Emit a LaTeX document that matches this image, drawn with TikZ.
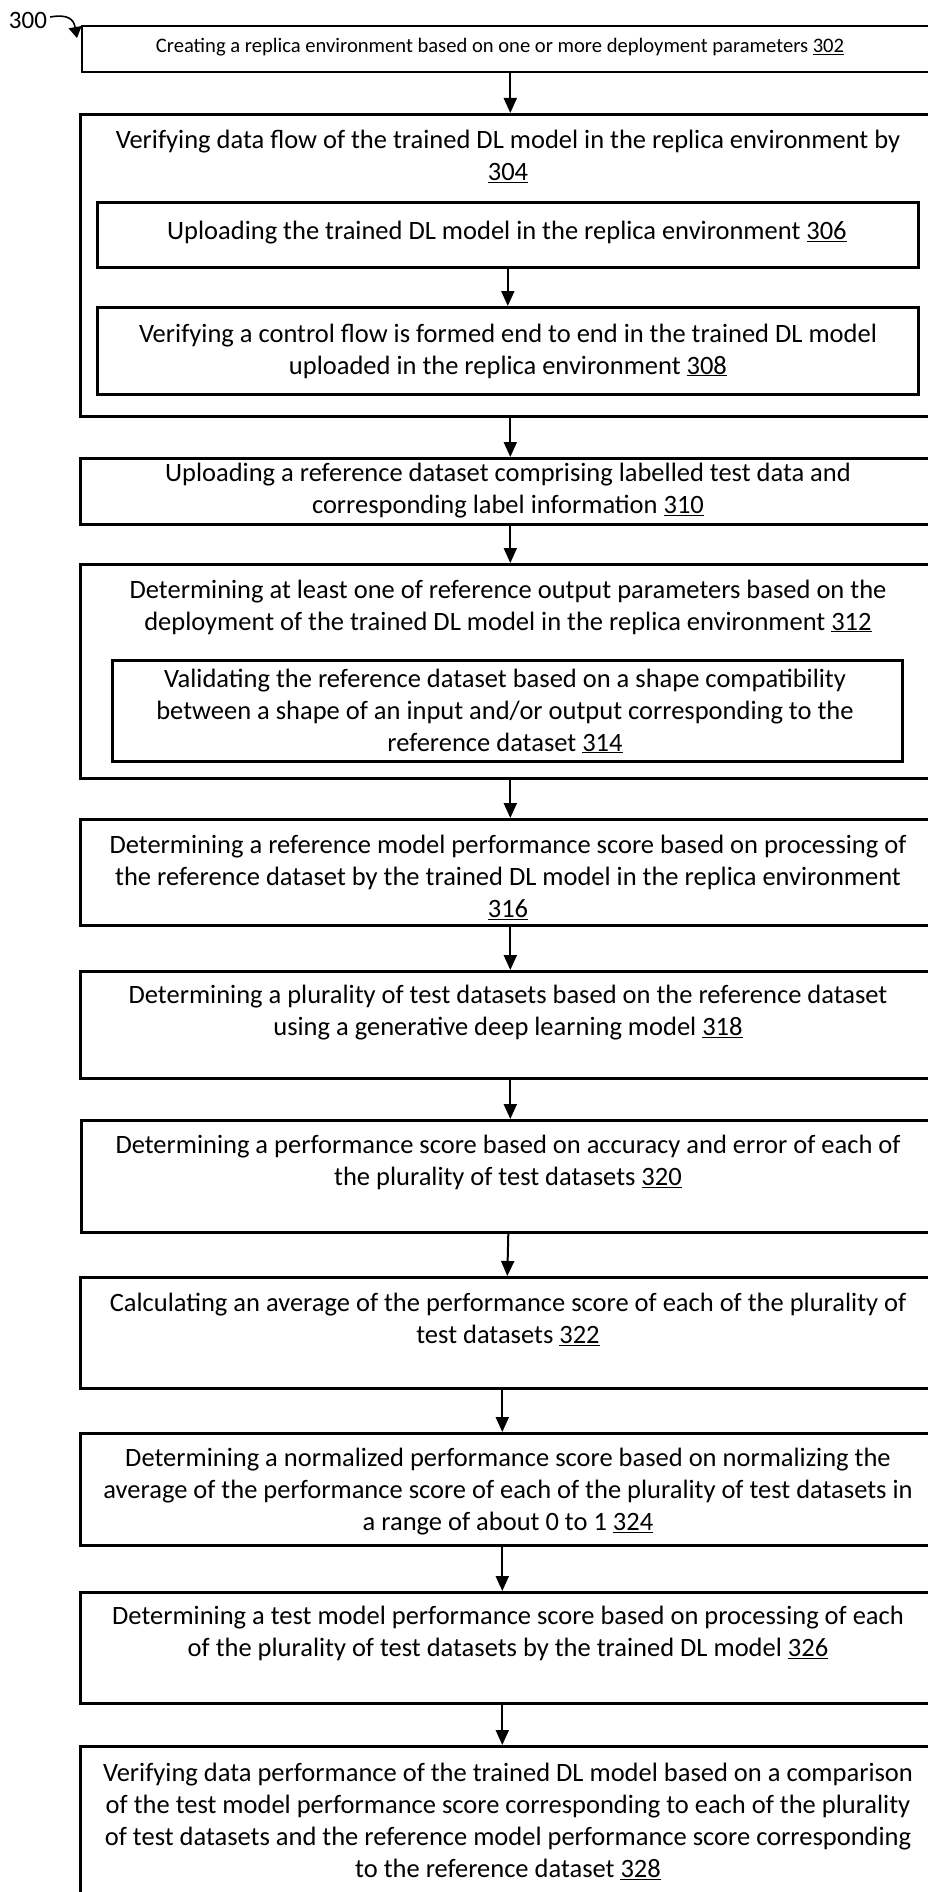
\documentclass[tikz,border=0pt]{standalone}
\usepackage{fontspec}
\setmainfont{Carlito}
\usetikzlibrary{arrows.meta}

\begin{document}
\begin{tikzpicture}[x=1pt,y=-1pt]
        \tikzstyle{box}=[draw,line width=2.6pt,anchor=north west,inner sep=0pt,minimum width=860pt]
        \tikzstyle{txt}=[align=center,inner sep=0pt,font=\fontsize{26.5}{32}\selectfont]
        \tikzstyle{arr}=[line width=2pt,-{Triangle[length=15pt,width=13pt]}]
        \useasboundingbox (0,0) rectangle (928,1892);
        \clip (0,0) rectangle (928,1892);
        % boxes
        \node[box,line width=1.8pt,minimum height=46pt] (b302) at (81,25) {};
        \node[box,minimum height=302pt] (b304) at (79,113) {};
        \node[box,minimum width=821pt,minimum height=65pt] (b306) at (96,201) {};
        \node[box,minimum width=821pt,minimum height=87pt] (b308) at (96,306) {};
        \node[box,minimum height=66pt] (b310) at (79,457) {};
        \node[box,minimum height=214pt] (b312) at (79,563) {};
        \node[box,minimum width=790pt,minimum height=101pt] (b314) at (111,659) {};
        \node[box,minimum height=106pt] (b316) at (79,818) {};
        \node[box,minimum height=107pt] (b318) at (79,970) {};
        \node[box,minimum height=112pt] (b320) at (80,1119) {};
        \node[box,minimum height=111pt] (b322) at (79,1276) {};
        \node[box,minimum height=112pt] (b324) at (79,1432) {};
        \node[box,minimum height=111pt] (b326) at (79,1591) {};
        \node[box,minimum height=200pt] (b328) at (79,1745) {};
        % texts
        \node[txt,font=\fontsize{20.6}{26}\selectfont] (t302) at (500,47) {Creating a replica environment based on one or more deployment parameters \underline{302}};
        \node[txt] (t304) at (508,156.5) {Verifying data flow of the trained DL model in the replica environment by\\\underline{304}};
        \node[txt] (t306) at (507,233) {Uploading the trained DL model in the replica environment \underline{306}};
        \node[txt] (t308) at (508,351) {Verifying a control flow is formed end to end in the trained DL model\\uploaded in the replica environment \underline{308}};
        \node[txt] (t310) at (508,491) {Uploading a reference dataset comprising labelled test data and\\corresponding label information \underline{310}};
        \node[txt] (t312) at (508,607) {Determining at least one of reference output parameters based on the\\deployment of the trained DL model in the replica environment \underline{312}};
        \node[txt] (t314) at (505,711) {Validating the reference dataset based on a shape compatibility\\between a shape of an input and/or output corresponding to the\\reference dataset \underline{314}};
        \node[txt] (t316) at (508,877.5) {Determining a reference model performance score based on processing of\\the reference dataset by the trained DL model in the replica environment\\\underline{316}};
        \node[txt] (t318) at (508,1013) {Determining a plurality of test datasets based on the reference dataset\\using a generative deep learning model \underline{318}};
        \node[txt] (t320) at (508,1162.5) {Determining a performance score based on accuracy and error of each of\\the plurality of test datasets \underline{320}};
        \node[txt] (t322) at (508,1319) {Calculating an average of the performance score of each of the plurality of\\test datasets \underline{322}};
        \node[txt] (t324) at (508,1492) {Determining a normalized performance score based on normalizing the\\average of the performance score of each of the plurality of test datasets in\\a range of about 0 to 1 \underline{324}};
        \node[txt] (t326) at (508,1633.5) {Determining a test model performance score based on processing of each\\of the plurality of test datasets by the trained DL model \underline{326}};
        \node[txt] (t328) at (508,1821) {Verifying data performance of the trained DL model based on a comparison\\of the test model performance score corresponding to each of the plurality\\of test datasets and the reference model performance score corresponding\\to the reference dataset \underline{328}};
        \node[font=\fontsize{25}{30}\selectfont,inner sep=0pt] (l300) at (28,20) {300};
        % connectors
        \draw[arr,line width=1.6pt,-{Triangle[length=11pt,width=13pt]}] ([xshift=3pt,yshift=3pt]l300.east) to[out=10,in=100,looseness=1.4] ([xshift=-4pt,yshift=-13pt]b302.north west);
        \draw[arr] (b302.south -| b304.north) -- (b304.north);
        \draw[arr] (b306.south) -- (b308.north);
        \draw[arr] (b304.south) -- (b310.north);
        \draw[arr] (b310.south) -- (b312.north);
        \draw[arr] (b312.south) -- (b316.north);
        \draw[arr] (b316.south) -- (b318.north);
        \draw[arr] (b318.south) -- (b320.north -| b318.south);
        \draw[arr] ([xshift=-3pt]b320.south) -- ([xshift=-3pt]b322.north);
        \draw[arr] ([xshift=-8pt]b322.south) -- ([xshift=-8pt]b324.north);
        \draw[arr] ([xshift=-8pt]b324.south) -- ([xshift=-8pt]b326.north);
        \draw[arr] ([xshift=-8pt]b326.south) -- ([xshift=-8pt]b328.north);
\end{tikzpicture}
\end{document}
